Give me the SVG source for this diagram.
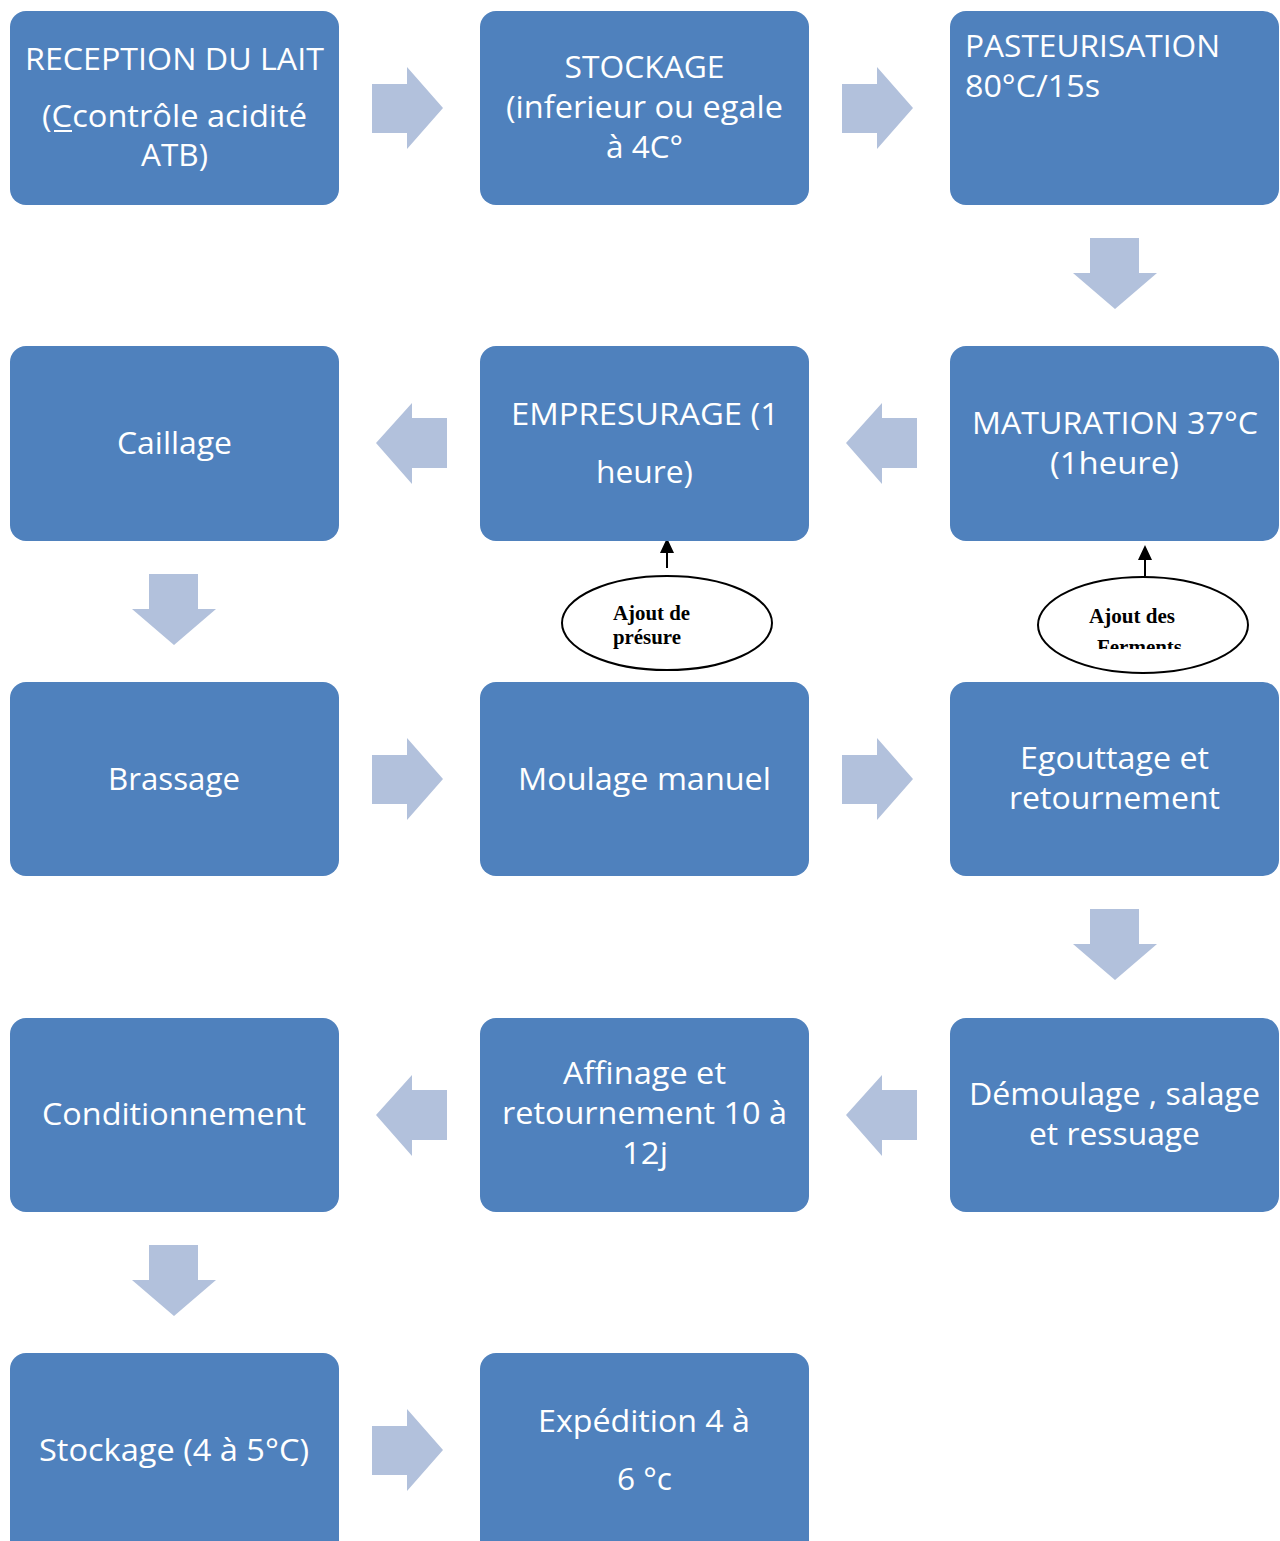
<svg xmlns="http://www.w3.org/2000/svg" width="1280" height="1541" viewBox="0 0 1280 1541">
<style>
.box{fill:#4F81BD}
.t{font-family:"Open Sans","Noto Sans","Liberation Sans",sans-serif;font-size:31px;fill:#ffffff}
.m{text-anchor:middle}
.arr{fill:#B2C1DC}
.el{fill:#ffffff;stroke:#000000;stroke-width:2}
.et{font-family:"Liberation Serif","Times New Roman",serif;font-weight:bold;font-size:20px;fill:#000000}
</style>
<defs>
<path id="ra" d="M372,84 H407 V67 L443,108 L407,149 V133 H372 Z"/>
<path id="la" d="M447,418 H412 V403 L376,443 L412,484 V468 H447 Z"/>
<path id="da" d="M1090,238 H1139 V273 H1157 L1115,309 L1073,273 H1090 Z"/>
<clipPath id="ec"><rect x="1030" y="560" width="230" height="89"/></clipPath>
</defs>
<rect width="1280" height="1541" fill="#ffffff"/>
<g id="connectors">
<use href="#ra" class="arr"/>
<use href="#ra" class="arr" transform="translate(470,0)"/>
<use href="#da" class="arr"/>
<use href="#la" class="arr" transform="translate(470,0)"/>
<use href="#la" class="arr"/>
<use href="#da" class="arr" transform="translate(-941,336)"/>
<use href="#ra" class="arr" transform="translate(0,671)"/>
<use href="#ra" class="arr" transform="translate(470,671)"/>
<use href="#da" class="arr" transform="translate(0,671)"/>
<use href="#la" class="arr" transform="translate(470,672)"/>
<use href="#la" class="arr" transform="translate(0,672)"/>
<use href="#da" class="arr" transform="translate(-941,1007)"/>
<use href="#ra" class="arr" transform="translate(0,1342)"/>
<line x1="667" y1="568" x2="667" y2="552" stroke="#000" stroke-width="2"/>
<path d="M660,553 L667,538 L674,553 Z" fill="#000"/>
<line x1="1145" y1="576" x2="1145" y2="559" stroke="#000" stroke-width="2"/>
<path d="M1138,560 L1145,545 L1152,560 Z" fill="#000"/>
</g>
<g id="n1"><rect class="box" x="10" y="11" width="329" height="194" rx="16"/>
<text class="t m" x="174.5" y="70" textLength="299" lengthAdjust="spacingAndGlyphs">RECEPTION DU LAIT</text>
<text class="t m" x="174.5" y="127" textLength="265" lengthAdjust="spacingAndGlyphs">(Ccontrôle acidité</text>
<line x1="54" y1="131" x2="72" y2="131" stroke="#fff" stroke-width="2"/>
<text class="t m" x="174.5" y="166" textLength="67" lengthAdjust="spacingAndGlyphs">ATB)</text></g>
<g id="n2"><rect class="box" x="480" y="11" width="329" height="194" rx="16"/>
<text class="t m" x="644.5" y="78" textLength="160" lengthAdjust="spacingAndGlyphs">STOCKAGE</text>
<text class="t m" x="644.5" y="118" textLength="277" lengthAdjust="spacingAndGlyphs">(inferieur ou egale</text>
<text class="t m" x="644.5" y="158" textLength="77" lengthAdjust="spacingAndGlyphs">à 4C°</text></g>
<g id="n3"><rect class="box" x="950" y="11" width="329" height="194" rx="16"/>
<text class="t" x="965" y="57" textLength="255" lengthAdjust="spacingAndGlyphs">PASTEURISATION</text>
<text class="t" x="965" y="97" textLength="135" lengthAdjust="spacingAndGlyphs">80°C/15s</text></g>
<g id="n4"><rect class="box" x="10" y="346" width="329" height="195" rx="16"/>
<text class="t m" x="174.5" y="454" textLength="115" lengthAdjust="spacingAndGlyphs">Caillage</text></g>
<g id="n5"><rect class="box" x="480" y="346" width="329" height="195" rx="16"/>
<text class="t m" x="645" y="425" textLength="268" lengthAdjust="spacingAndGlyphs">EMPRESURAGE (1</text>
<text class="t m" x="644.5" y="483" textLength="97" lengthAdjust="spacingAndGlyphs">heure)</text></g>
<g id="n6"><rect class="box" x="950" y="346" width="329" height="195" rx="16"/>
<text class="t m" x="1115" y="434" textLength="286" lengthAdjust="spacingAndGlyphs">MATURATION 37°C</text>
<text class="t m" x="1114.5" y="474" textLength="129" lengthAdjust="spacingAndGlyphs">(1heure)</text></g>
<g id="e1"><ellipse class="el" cx="667" cy="623" rx="105" ry="47"/>
<text class="et" x="613" y="620" textLength="77" lengthAdjust="spacingAndGlyphs">Ajout de</text>
<text class="et" x="613" y="644" textLength="68" lengthAdjust="spacingAndGlyphs">présure</text></g>
<g id="e2"><ellipse class="el" cx="1143" cy="625" rx="105" ry="48"/>
<text class="et" x="1089" y="623" textLength="86" lengthAdjust="spacingAndGlyphs">Ajout des</text>
<g clip-path="url(#ec)"><text class="et" x="1097" y="654" textLength="85" lengthAdjust="spacingAndGlyphs">Ferments</text></g></g>
<g id="n7"><rect class="box" x="10" y="682" width="329" height="194" rx="16"/>
<text class="t m" x="174" y="790" textLength="132" lengthAdjust="spacingAndGlyphs">Brassage</text></g>
<g id="n8"><rect class="box" x="480" y="682" width="329" height="194" rx="16"/>
<text class="t m" x="644.5" y="790" textLength="253" lengthAdjust="spacingAndGlyphs">Moulage manuel</text></g>
<g id="n9"><rect class="box" x="950" y="682" width="329" height="194" rx="16"/>
<text class="t m" x="1114.5" y="769" textLength="189" lengthAdjust="spacingAndGlyphs">Egouttage et</text>
<text class="t m" x="1114.5" y="809" textLength="211" lengthAdjust="spacingAndGlyphs">retournement</text></g>
<g id="n10"><rect class="box" x="10" y="1018" width="329" height="194" rx="16"/>
<text class="t m" x="174" y="1125" textLength="264" lengthAdjust="spacingAndGlyphs">Conditionnement</text></g>
<g id="n11"><rect class="box" x="480" y="1018" width="329" height="194" rx="16"/>
<text class="t m" x="644.5" y="1084" textLength="163" lengthAdjust="spacingAndGlyphs">Affinage et</text>
<text class="t m" x="644.5" y="1124" textLength="285" lengthAdjust="spacingAndGlyphs">retournement 10 à</text>
<text class="t m" x="645" y="1164" textLength="46" lengthAdjust="spacingAndGlyphs">12j</text></g>
<g id="n12"><rect class="box" x="950" y="1018" width="329" height="194" rx="16"/>
<text class="t m" x="1114.5" y="1105" textLength="291" lengthAdjust="spacingAndGlyphs">Démoulage , salage</text>
<text class="t m" x="1114.5" y="1145" textLength="171" lengthAdjust="spacingAndGlyphs">et ressuage</text></g>
<g id="n13"><rect class="box" x="10" y="1353" width="329" height="220" rx="16"/>
<text class="t m" x="174" y="1461" textLength="270" lengthAdjust="spacingAndGlyphs">Stockage (4 à 5°C)</text></g>
<g id="n14"><rect class="box" x="480" y="1353" width="329" height="220" rx="16"/>
<text class="t m" x="644" y="1432" textLength="212" lengthAdjust="spacingAndGlyphs">Expédition 4 à</text>
<text class="t m" x="644.5" y="1490" textLength="55" lengthAdjust="spacingAndGlyphs">6 °c</text></g>
</svg>
